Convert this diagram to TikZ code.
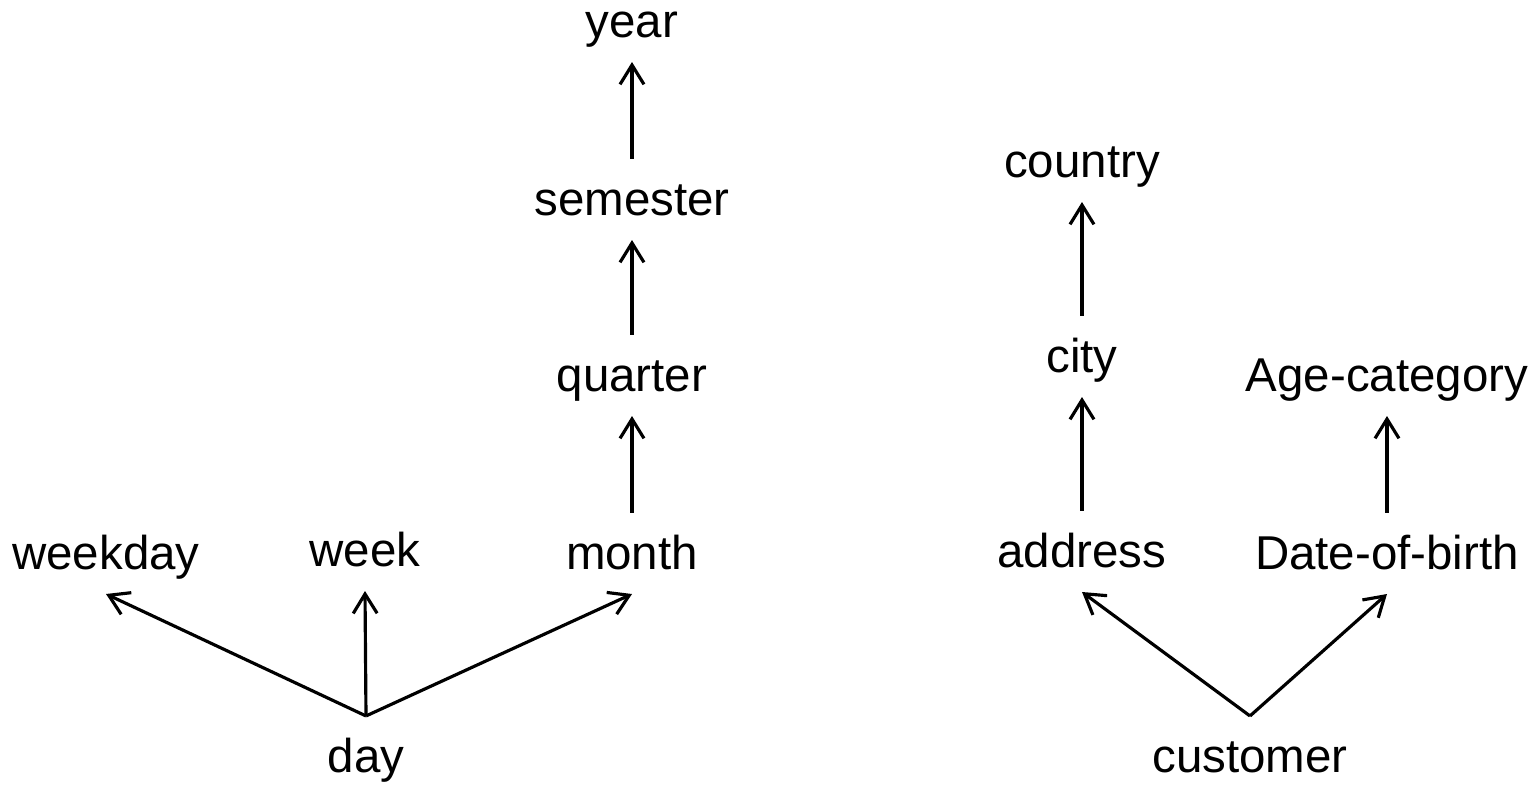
\documentclass[tikz,border=0pt]{standalone}
\usepackage{fontspec}
\setmainfont{Liberation Sans}
\usetikzlibrary{arrows.meta}
\begin{document}
\begin{tikzpicture}[x=0.01cm, y=-0.01cm,
  lbl/.style={inner sep=0pt, outer sep=0pt, text height=0.57cm, text depth=0.24cm,
              anchor=base, font=\fontsize{13.5pt}{16pt}\selectfont},
  arr/.style={-{Straight Barb[length=5.5pt,width=6.8pt,line width=0.9pt]}, line width=0.9pt}]
\useasboundingbox (0,0) rectangle (1539,786);
% time hierarchy
\node[lbl] (year)     at (632,38)  {year};
\node[lbl] (semester) at (632,216) {semester};
\node[lbl] (quarter)  at (632,392) {quarter};
\node[lbl] (month)    at (632,570) {month};
\node[lbl] (week)     at (365,567) {week};
\node[lbl] (weekday)  at (106,570) {weekday};
\node[lbl] (day)      at (366,773) {day};
% customer hierarchy
\node[lbl] (country)  at (1082,178) {country};
\node[lbl] (city)     at (1082,373) {city};
\node[lbl] (address)  at (1082,568) {address};
\node[lbl] (agecat)   at (1387,392) {Age-category};
\node[lbl] (dob)      at (1387,570) {Date-of-birth};
\node[lbl] (customer) at (1250,773) {customer};
% roll-up arrows
\draw[arr] (semester.north) -- (year.south);
\draw[arr] (quarter.north) -- (semester.south);
\draw[arr] (month.north) -- (quarter.south);
\draw[arr] (day.north) -- (weekday.south);
\draw[arr] (day.north) -- (week.south);
\draw[arr] (day.north) -- (month.south);
\draw[arr] (city.north) -- (country.south);
\draw[arr] (address.north) -- (city.south);
\draw[arr] (dob.north) -- (agecat.south);
\draw[arr] (customer.north) -- (address.south);
\draw[arr] (customer.north) -- (dob.south);
\end{tikzpicture}
\end{document}
